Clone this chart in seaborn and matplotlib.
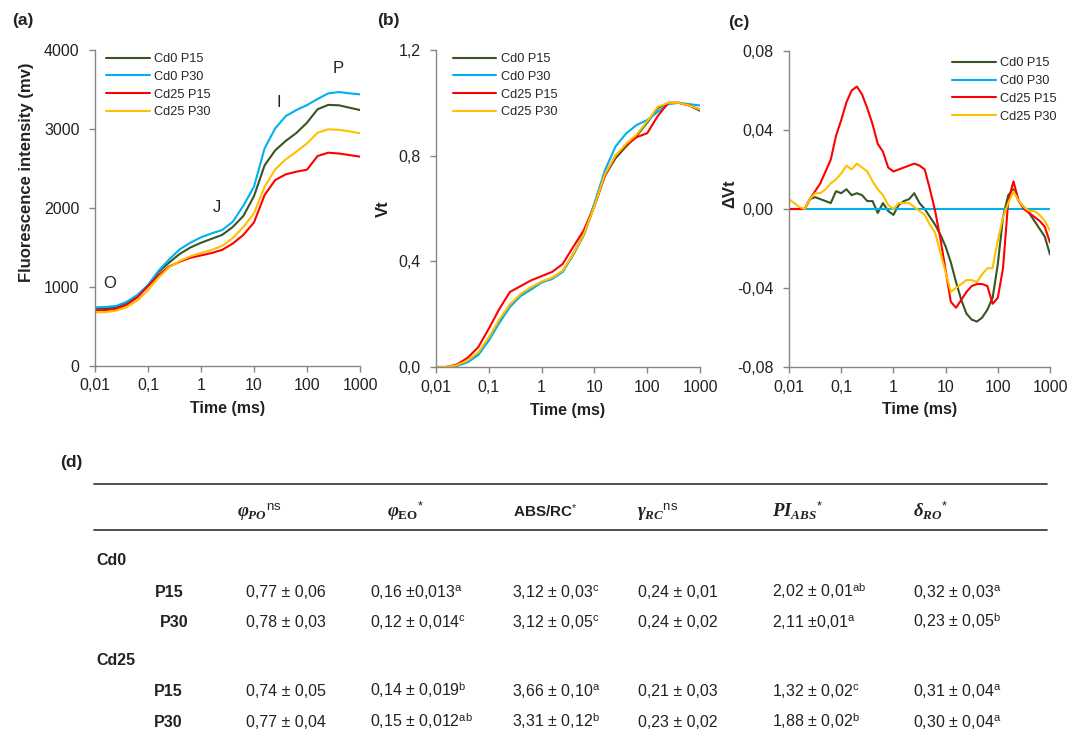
import numpy as np
import pandas as pd
import matplotlib
matplotlib.use("Agg")
import matplotlib.pyplot as plt
import seaborn as sns
from matplotlib.lines import Line2D
from matplotlib.ticker import NullLocator

# ---------------- data ----------------
series = ["Cd0 P15", "Cd0 P30", "Cd25 P15", "Cd25 P30"]
colors = ["#375623", "#00B0F0", "#FF0000", "#FFC000"]

# log10 of time (ms) for panels (a) and (b)
logt_ab = [-2.0, -1.8, -1.6, -1.4, -1.2, -1.0, -0.8, -0.6, -0.4, -0.2,
           0.0, 0.2, 0.4, 0.6, 0.8, 1.0, 1.2, 1.4, 1.6, 1.8,
           2.0, 2.2, 2.4, 2.6, 2.8, 3.0]

fluo_cd0_p15 = [725, 730, 745, 800, 890, 1020, 1190, 1310, 1420, 1500,
                1560, 1610, 1660, 1760, 1900, 2150, 2540, 2730, 2850, 2950,
                3080, 3250, 3305, 3300, 3270, 3240]
fluo_cd0_p30 = [742, 747, 760, 814, 899, 1025, 1207, 1350, 1477, 1561,
                1629, 1679, 1721, 1827, 2030, 2270, 2755, 3008, 3164, 3240,
                3303, 3380, 3451, 3468, 3451, 3439]
fluo_cd25_p15 = [705, 708, 725, 775, 870, 1010, 1150, 1260, 1320, 1370,
                 1400, 1430, 1470, 1550, 1660, 1818, 2164, 2354, 2426, 2460,
                 2485, 2658, 2700, 2690, 2670, 2650]
fluo_cd25_p30 = [680, 682, 700, 745, 830, 960, 1120, 1250, 1330, 1390,
                 1430, 1470, 1520, 1620, 1760, 1932, 2270, 2489, 2616, 2713,
                 2818, 2953, 2996, 2990, 2970, 2945]

vt_cd0_p15 = [0, 0, 0.006, 0.022, 0.05, 0.105, 0.175, 0.232, 0.272, 0.298,
              0.322, 0.336, 0.362, 0.425, 0.5, 0.61, 0.725, 0.79, 0.835, 0.875,
              0.925, 0.98, 1.0, 1.0, 0.99, 0.97]
vt_cd0_p30 = [0, 0, 0.004, 0.018, 0.045, 0.10, 0.167, 0.227, 0.268, 0.293,
              0.32, 0.333, 0.36, 0.43, 0.505, 0.62, 0.745, 0.835, 0.884, 0.916,
              0.935, 0.966, 0.995, 1.0, 0.995, 0.99]
vt_cd25_p15 = [0, 0, 0.01, 0.035, 0.075, 0.145, 0.22, 0.284, 0.306, 0.328,
               0.344, 0.36, 0.39, 0.455, 0.518, 0.61, 0.725, 0.80, 0.84, 0.87,
               0.885, 0.95, 1.0, 1.0, 0.99, 0.975]
vt_cd25_p30 = [0, 0, 0.007, 0.025, 0.055, 0.112, 0.18, 0.237, 0.276, 0.302,
               0.324, 0.338, 0.365, 0.428, 0.502, 0.61, 0.73, 0.80, 0.845, 0.88,
               0.93, 0.985, 1.0, 1.0, 0.99, 0.975]

# log10 of time (ms) for panel (c)
logt_c = [-2.0, -1.9, -1.8, -1.7, -1.6, -1.5, -1.4, -1.3, -1.2, -1.1,
          -1.0, -0.9, -0.8, -0.7, -0.6, -0.5, -0.4, -0.3, -0.2, -0.1,
          0.0, 0.1, 0.2, 0.3, 0.4, 0.5, 0.6, 0.7, 0.8, 0.9,
          1.0, 1.1, 1.2, 1.3, 1.4, 1.5, 1.6, 1.7, 1.8, 1.9,
          2.0, 2.1, 2.2, 2.3, 2.4, 2.5, 2.6, 2.7, 2.8, 2.9, 3.0]

dvt_cd0_p15 = [0.000, 0.000, 0.000, 0.000, 0.005, 0.006, 0.005, 0.004, 0.003, 0.009,
               0.008, 0.010, 0.007, 0.008, 0.007, 0.004, 0.004, -0.002, 0.003, -0.001,
               -0.003, 0.002, 0.004, 0.005, 0.008, 0.003, 0.000, -0.004, -0.008, -0.013,
               -0.019, -0.027, -0.037, -0.046, -0.053, -0.056, -0.057, -0.055, -0.051, -0.045,
               -0.028, -0.004, 0.007, 0.010, 0.004, 0.001, -0.002, -0.006, -0.010, -0.014, -0.023]
dvt_cd0_p30 = [0.0] * 51
dvt_cd25_p15 = [0.000, 0.000, 0.000, 0.000, 0.005, 0.009, 0.013, 0.019, 0.025, 0.037,
                0.045, 0.054, 0.060, 0.062, 0.058, 0.051, 0.043, 0.033, 0.029, 0.021,
                0.019, 0.020, 0.021, 0.022, 0.023, 0.022, 0.020, 0.010, -0.001, -0.015,
                -0.031, -0.047, -0.050, -0.046, -0.042, -0.039, -0.038, -0.038, -0.039, -0.048,
                -0.045, -0.030, 0.004, 0.014, 0.004, 0.000, -0.002, -0.004, -0.006, -0.009, -0.017]
dvt_cd25_p30 = [0.005, 0.003, 0.001, 0.000, 0.005, 0.008, 0.008, 0.010, 0.013, 0.015,
                0.018, 0.022, 0.020, 0.023, 0.021, 0.019, 0.014, 0.010, 0.007, 0.002,
                0.000, 0.003, 0.003, 0.003, 0.001, -0.001, -0.003, -0.008, -0.012, -0.022,
                -0.032, -0.042, -0.040, -0.038, -0.036, -0.036, -0.037, -0.033, -0.030, -0.030,
                -0.016, -0.004, 0.003, 0.009, 0.004, 0.001, -0.001, -0.001, -0.003, -0.006, -0.011]

time_ticks = [0.01, 0.1, 1, 10, 100, 1000]
time_tick_labels = ["0,01", "0,1", "1", "10", "100", "1000"]
fluo_ticks = [0, 1000, 2000, 3000, 4000]
fluo_tick_labels = ["0", "1000", "2000", "3000", "4000"]
vt_ticks = [0, 0.4, 0.8, 1.2]
vt_tick_labels = ["0,0", "0,4", "0,8", "1,2"]
dvt_ticks = [-0.08, -0.04, 0.0, 0.04, 0.08]
dvt_tick_labels = ["-0,08", "-0,04", "0,00", "0,04", "0,08"]

# table
col_headers = [r"${φ_{PO}}^{\mathrm{ns}}$", r"${φ_{\mathbf{EO}}}^{*}$", r"ABS/RC$^{*}$",
               r"${γ_{RC}}^{\mathrm{ns}}$", r"${PI_{ABS}}^{*}$", r"${δ_{RO}}^{*}$"]
groups = ["Cd0", "Cd25"]
subrows = ["P15", "P30"]
phi_po = ["0,77 ± 0,06", "0,78 ± 0,03", "0,74 ± 0,05", "0,77 ± 0,04"]
phi_po_sup = ["", "", "", ""]
phi_eo = ["0,16 ±0,013", "0,12 ± 0,014", "0,14 ± 0,019", "0,15 ± 0,012"]
phi_eo_sup = ["a", "c", "b", "ab"]
abs_rc = ["3,12 ± 0,03", "3,12 ± 0,05", "3,66 ± 0,10", "3,31 ± 0,12"]
abs_rc_sup = ["c", "c", "a", "b"]
gamma_rc = ["0,24 ± 0,01", "0,24 ± 0,02", "0,21 ± 0,03", "0,23 ± 0,02"]
gamma_rc_sup = ["", "", "", ""]
pi_abs = ["2,02 ± 0,01", "2,11 ±0,01", "1,32 ± 0,02", "1,88 ± 0,02"]
pi_abs_sup = ["ab", "a", "c", "b"]
delta_ro = ["0,32 ± 0,03", "0,23 ± 0,05", "0,31 ± 0,04", "0,30 ± 0,04"]
delta_ro_sup = ["a", "b", "a", "a"]

# ---------------- style ----------------
sns.set_style("ticks")
plt.rcParams["font.family"] = ["Liberation Sans", "DejaVu Sans"]
plt.rcParams["mathtext.fontset"] = "custom"
plt.rcParams["mathtext.rm"] = "Liberation Sans"
plt.rcParams["mathtext.it"] = "Liberation Serif:italic:bold"
plt.rcParams["mathtext.bf"] = "Liberation Serif:bold"
plt.rcParams["mathtext.sf"] = "Liberation Sans:bold"

W, H = 1075, 750
fig = plt.figure(figsize=(W / 100, H / 100), dpi=100)
fig.patch.set_facecolor("white")

SPINE = "#868686"
TXT = "#222222"
LW = 1.5
palette = dict(zip(series, colors))


def px_axes(l, t, r, b):
    return [l / W, 1 - b / H, (r - l) / W, (b - t) / H]


def long_df(logt, arrays):
    frames = []
    for name, vals in zip(series, arrays):
        frames.append(pd.DataFrame({"t": np.power(10.0, logt), "v": vals, "s": name}))
    return pd.concat(frames, ignore_index=True)


def style_axis(ax, yticks, ylabels, ylim):
    ax.set_xscale("log")
    ax.set_xlim(0.01, 1000)
    ax.set_ylim(*ylim)
    ax.set_xticks(time_ticks)
    ax.set_xticklabels(time_tick_labels)
    ax.xaxis.set_minor_locator(NullLocator())
    ax.set_yticks(yticks)
    ax.set_yticklabels(ylabels)
    for s in ["top", "right"]:
        ax.spines[s].set_visible(False)
    for s in ["left", "bottom"]:
        ax.spines[s].set_color(SPINE)
        ax.spines[s].set_linewidth(1.0)
    ax.tick_params(axis="both", which="major", direction="out", length=4, width=1.0,
                   color=SPINE, labelsize=11.5, labelcolor=TXT)
    ax.tick_params(axis="x", pad=5)
    ax.tick_params(axis="y", pad=7)
    ax.set_xlabel("Time (ms)", fontsize=11.5, fontweight="bold", color=TXT)
    ax.xaxis.set_label_coords(0.5, -0.112)
    ax.patch.set_alpha(0)


def add_legend(ax, x, y):
    handles = [Line2D([0], [0], color=c, lw=LW) for c in colors]
    ax.legend(handles, series, loc="upper left", bbox_to_anchor=(x, y), frameon=False,
              fontsize=9.2, handlelength=3.4, handletextpad=0.35, labelspacing=0.45,
              borderaxespad=0, borderpad=0)


# ---------------- panel (a) ----------------
ax_a = fig.add_axes(px_axes(95, 50, 360, 366))
df_a = long_df(logt_ab, [fluo_cd0_p15, fluo_cd0_p30, fluo_cd25_p15, fluo_cd25_p30])
sns.lineplot(data=df_a, x="t", y="v", hue="s", hue_order=series, palette=palette,
             estimator=None, legend=False, linewidth=LW, ax=ax_a)
style_axis(ax_a, fluo_ticks, fluo_tick_labels, (0, 4000))
ax_a.set_ylabel("Fluorescence intensity (mv)", fontsize=12, fontweight="bold", color=TXT)
ax_a.yaxis.set_label_coords(-0.232, 0.614)
add_legend(ax_a, 0.042, 0.99)
for lab, tx, vy in [("O", 0.019, 1050), ("J", 2.0, 2000), ("I", 30, 3330), ("P", 390, 3760)]:
    ax_a.text(tx, vy, lab, fontsize=12, color=TXT, ha="center", va="center")

# ---------------- panel (b) ----------------
ax_b = fig.add_axes(px_axes(436, 50, 700, 367))
df_b = long_df(logt_ab, [vt_cd0_p15, vt_cd0_p30, vt_cd25_p15, vt_cd25_p30])
sns.lineplot(data=df_b, x="t", y="v", hue="s", hue_order=series, palette=palette,
             estimator=None, legend=False, linewidth=LW, ax=ax_b)
style_axis(ax_b, vt_ticks, vt_tick_labels, (0, 1.2))
ax_b.set_ylabel("Vt", fontsize=12, fontweight="bold", color=TXT)
ax_b.yaxis.set_label_coords(-0.172, 0.5)
add_legend(ax_b, 0.064, 0.99)

# ---------------- panel (c) ----------------
ax_c = fig.add_axes(px_axes(789, 51, 1050, 367))
df_c = long_df(logt_c, [dvt_cd0_p15, dvt_cd0_p30, dvt_cd25_p15, dvt_cd25_p30])
sns.lineplot(data=df_c, x="t", y="v", hue="s", hue_order=series, palette=palette,
             estimator=None, legend=False, linewidth=LW, ax=ax_c)
style_axis(ax_c, dvt_ticks, dvt_tick_labels, (-0.08, 0.08))
ax_c.set_ylabel("ΔVt", fontsize=12, fontweight="bold", color=TXT)
ax_c.yaxis.set_label_coords(-0.198, 0.55)
add_legend(ax_c, 0.625, 0.98)

# panel letters
for lab, x, y in [("(a)", 12, 21), ("(b)", 377, 21), ("(c)", 728, 22), ("(d)", 60, 462)]:
    fig.text(x / W, 1 - y / H, lab, fontsize=12.5, fontweight="bold", color=TXT,
             ha="left", va="center")

# ---------------- table (d) ----------------
for yline in [484, 530]:
    fig.add_artist(Line2D([94 / W, 1047 / W], [1 - yline / H, 1 - yline / H],
                          color="#404040", lw=1.3, transform=fig.transFigure))

header_x = [237, 387, 513, 637, 772, 913]
for hx, htxt in zip(header_x, col_headers):
    if htxt.startswith("ABS"):
        fig.text(hx / W, 1 - 517 / H, htxt, fontsize=11, fontweight="bold", color=TXT,
                 ha="left", va="baseline")
    else:
        fig.text(hx / W, 1 - 517 / H, htxt, fontsize=13.5, color=TXT, ha="left",
                 va="baseline")

group_base = [565, 665]
row_base = [[597, 627], [696, 727]]
row_x = [[155, 160], [154, 154]]
for g, gy in zip(groups, group_base):
    fig.text(96 / W, 1 - gy / H, g, fontsize=11.5, fontweight="bold", color=TXT,
             ha="left", va="baseline")

columns = [(phi_po, phi_po_sup), (phi_eo, phi_eo_sup), (abs_rc, abs_rc_sup),
           (gamma_rc, gamma_rc_sup), (pi_abs, pi_abs_sup), (delta_ro, delta_ro_sup)]
value_x = [246, 370, 512, 638, 772, 913]
for gi in range(2):
    for ri in range(2):
        idx = gi * 2 + ri
        y = row_base[gi][ri]
        fig.text(row_x[gi][ri] / W, 1 - y / H, subrows[ri], fontsize=11.5, fontweight="bold",
                 color=TXT, ha="left", va="baseline")
        for (vals, sups), vx in zip(columns, value_x):
            s = vals[idx]
            if sups[idx]:
                s = s + r"$^{\mathrm{" + sups[idx] + "}}$"
            fig.text(vx / W, 1 - y / H, s, fontsize=11.5, color=TXT, ha="left",
                     va="baseline")

fig.savefig("out.png", dpi=100, facecolor="white")
